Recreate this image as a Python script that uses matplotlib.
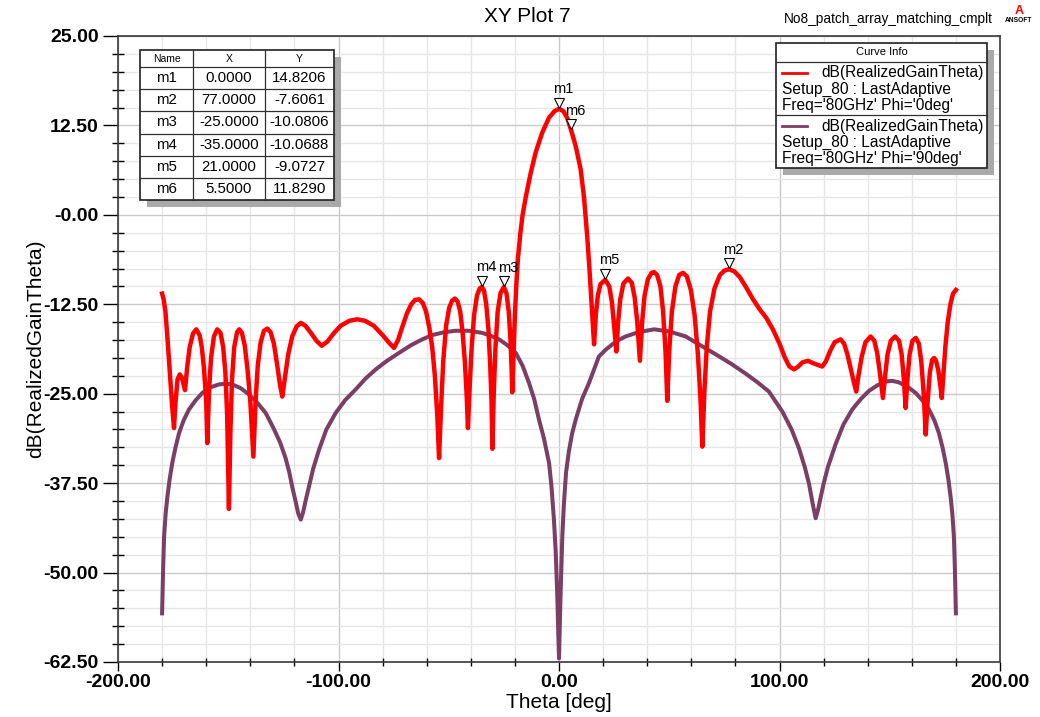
import matplotlib
matplotlib.use("Agg")
import matplotlib.pyplot as plt
from matplotlib.patches import Rectangle
from matplotlib.lines import Line2D
from matplotlib.ticker import MultipleLocator, FixedLocator
from matplotlib.transforms import offset_copy

## Phi = 0deg cut (theta in deg, realized gain in dB)
theta_phi0 = [-180, -179.3, -178.5, -177.5, -176.5, -175.5, -174.6, -174, -173, -172, -171, -169.6,
              -168.7, -167.5, -166, -164.5, -163, -162, -161, -160, -159.5, -158.7, -157.8, -156.5,
              -155, -153.5, -152.3, -151.3, -150.5, -149.7, -149, -148.3, -147.3, -146, -145,
              -143.8, -142.5, -141.3, -140, -138.6, -137.6, -136.6, -135.3, -133.8, -132.3, -130.8,
              -129.3, -127.8, -126.5, -125.5, -124.3, -122.8, -121, -119, -117.1, -115, -112.5,
              -110, -107.6, -105, -102, -99, -95, -91.5, -88, -84, -80, -77, -74.8, -73, -71, -69,
              -67, -65.3, -63.5, -61.8, -60.3, -58.8, -57.5, -56.3, -55.2, -54.4, -53.5, -52.5,
              -51.2, -49.8, -48.5, -47.2, -46, -44.8, -43.7, -42.7, -41.9, -41.3, -40.5, -39.6,
              -38.5, -37.2, -36, -35, -34, -33, -32, -31.2, -30.6, -30.2, -29.6, -28.8, -27.8,
              -26.5, -25, -23.8, -22.8, -22, -21.5, -21.2, -20.6, -20, -19.3, -18.6, -17.5, -16.5,
              -15, -12.8, -10.6, -7.6, -4.5, -2, 0, 2, 3.8, 5.5, 7.6, 9.8, 11.3, 12.8, 13.8, 14.6,
              15.3, 15.9, 16.7, 17.6, 18.8, 21, 22.8, 24, 25, 26, 26.8, 27.8, 29.2, 31.3, 33, 34.3,
              35.5, 36.7, 37.7, 38.8, 40.3, 42, 43.1, 44.5, 46, 47.2, 48.3, 49.1, 50, 51.2, 52.8,
              54.5, 56.2, 58, 59.8, 61.5, 63, 64.2, 65, 65.9, 67, 68.5, 70.5, 73, 75, 77, 79.5, 82,
              85, 88, 91, 94, 97, 100, 102.5, 104.5, 106.6, 108.5, 110.5, 113, 115, 117.5, 119.4,
              121, 123, 125, 127.7, 129.3, 130.8, 132.3, 133.8, 134.8, 135.8, 137.3, 139, 141.3,
              143, 144.3, 145.5, 146.9, 147.9, 149, 150.5, 152.4, 154.2, 155.4, 156.4, 157.2, 158,
              159, 160.3, 161.8, 163.2, 164.3, 165.4, 166.3, 167.2, 168.2, 169.2, 170.1, 171, 172,
              173, 173.6, 174.3, 175.2, 176.3, 177.5, 178.7, 180]
gain_phi0 = [-11.0, -11.8, -13.5, -17.5, -22.0, -26.5, -29.8, -26.5, -23.0, -22.3, -22.8, -24.5,
             -21.5, -18.5, -16.6, -16.0, -16.8, -18.5, -21.5, -26.0, -31.9, -24.5, -20.0, -17.0,
             -16.0, -16.5, -18.5, -22.0, -28.0, -41.1, -30.0, -23.0, -18.5, -16.4, -16.0,
             -16.5, -18.3, -21.5, -26.0, -33.8, -26.0, -21.0, -17.8, -16.2, -15.9, -16.4,
             -18.0, -21.0, -23.8, -25.4, -22.8, -19.5, -17.0, -15.6, -15.1, -15.5, -16.5,
             -17.6, -18.3, -17.7, -16.5, -15.5, -14.8, -14.6, -14.8, -15.5, -16.8, -17.9, -18.6,
             -17.5, -15.6, -13.8, -12.5, -11.9, -11.8, -12.3, -13.5, -15.8, -18.5, -22.5, -28.0,
             -34.0, -27.0, -20.5, -15.5, -13.0, -12.0, -11.7, -12.1, -13.5, -16.5, -20.5, -25.0,
             -29.8, -24.0, -18.5, -14.0, -11.3, -10.3, -10.07, -10.6, -12.5, -16.0, -21.0, -26.0,
             -32.7, -25.0, -18.5, -13.5, -10.9, -10.08, -11.0, -13.5, -17.5, -21.5, -24.8, -19.5,
             -14.0, -9.5, -6.0, -2.5, 0.0, 2.6, 5.9, 8.7, 11.5, 13.6, 14.5, 14.82, 14.5, 13.5,
             11.83, 9.6, 6.4, 2.6, -3.0, -7.5, -11.5, -15.0, -18.1, -14.0, -11.3, -9.7, -9.07,
             -10.0, -12.2, -15.5, -19.1, -15.0, -11.8, -9.6, -8.9, -9.5, -11.5, -15.0, -20.4,
             -15.0, -11.3, -9.0, -8.1, -8.0, -8.4, -10.0, -13.5, -19.0, -26.0, -19.0, -13.5,
             -10.0, -8.4, -8.1, -8.6, -10.5, -14.0, -19.5, -26.0, -32.4, -25.0, -18.5, -13.5,
             -10.3, -8.4, -7.8, -7.6, -7.9, -8.7, -10.2, -11.8, -13.2, -14.4, -16.0, -18.0, -20.0,
             -21.2, -21.6, -21.2, -20.6, -20.4, -20.7, -21.0, -21.2, -20.5, -19.0, -17.8, -17.4,
             -18.0, -19.5, -21.5, -23.5, -24.7, -22.5, -19.8, -17.8, -17.0, -17.6, -19.3, -22.0,
             -25.6, -22.5, -19.5, -17.6, -17.0, -17.6, -19.5, -23.0, -27.0, -23.0, -19.5, -17.6,
             -17.2, -18.0, -20.5, -25.0, -30.7, -26.0, -22.0, -20.3, -20.0, -20.4, -21.7, -24.0,
             -25.6, -22.5, -18.5, -15.0, -12.5, -11.0, -10.5]

## Phi = 90deg cut
theta_phi90 = [-180, -179.5, -179.1, -178.4, -177.6, -176.6, -175.4, -174, -172.3, -170.2, -167.8,
               -165, -161.8, -158, -154.2, -151.2, -148.2, -144.5, -140.6, -137, -133.0, -129.5,
               -126.5, -124, -122.3, -121.0, -119.5, -118.2, -117.1, -116, -114.8, -113.4, -111.5,
               -108.8, -105.5, -101.3, -97, -92.2, -87.8, -83.1, -78, -72.6, -67, -62, -57.5, -52,
               -46.9, -41, -34.8, -31, -27.2, -23.5, -19.6, -16.5, -13.6, -11.2, -9.1, -6.8, -4.5,
               -3.4, -2.3, -1.5, -0.8, 0, 0.8, 1.5, 2.2, 3.2, 4.5, 6, 7.6, 10.5, 13.6, 18.1, 21,
               24.2, 27, 30.2, 36, 43.1, 50, 57.5, 64, 71.1, 78, 84.7, 90, 95.2, 101.3, 105.5,
               108.8, 111.5, 113.4, 115, 116.4, 117.5, 118.8, 120, 122, 125.5, 129, 133, 137, 140.6,
               144.5, 148, 151, 154, 158, 161.8, 165, 167.8, 170.2, 172.3, 174, 175.4, 176.6, 177.6,
               178.4, 179.1, 179.5, 180]
gain_phi90 = [-55.7, -49.0, -45.0, -41.8, -39.4, -37.0, -34.7, -32.6, -30.5, -28.7, -27.2,
              -26.0, -24.9, -24.1, -23.7, -23.6, -23.7, -24.2, -25.1, -26.2, -27.7, -29.8,
              -31.8, -34.0, -36.0, -38.0, -40.0, -41.8, -42.6, -41.5, -39.8, -38.0, -35.5,
              -32.8, -30.0, -27.7, -25.9, -24.4, -22.9, -21.6, -20.4, -19.3, -18.2, -17.4, -16.8,
              -16.4, -16.2, -16.2, -16.5, -16.9, -17.4, -18.2, -19.3, -21.1, -23.5, -25.8, -28.6,
              -31.3, -34.7, -38.0, -42.6, -47.0, -53.0, -62.0, -52.0, -45.0, -40.5, -36.0, -33.0,
              -30.5, -28.6, -25.7, -23.5, -19.8, -18.9, -18.1, -17.5, -17.0, -16.4, -16.0, -16.3,
              -17.0, -18.2, -19.5, -20.8, -22.2, -23.4, -24.7, -27.5, -30.0, -32.6, -35.3, -37.6,
              -40.3, -42.4, -41.2, -39.3, -37.6, -35.2, -32.0, -29.3, -27.2, -25.7, -24.6, -23.8,
              -23.3, -23.2, -23.4, -24.0, -24.9, -26.0, -27.2, -28.7, -30.5, -32.6, -34.7, -37.0,
              -39.4, -41.8, -45.0, -49.0, -55.7]

## markers
marker_names = ["m1", "m2", "m3", "m4", "m5", "m6"]
marker_x = [0.0, 77.0, -25.0, -35.0, 21.0, 5.5]
marker_y = [14.8206, -7.6061, -10.0806, -10.0688, -9.0727, 11.8290]

x_ticks = [-200, -100, 0, 100, 200]
x_tick_labels = ["-200.00", "-100.00", "0.00", "100.00", "200.00"]
y_ticks = [-62.5, -50, -37.5, -25, -12.5, 0, 12.5, 25]
y_tick_labels = ["-62.50", "-50.00", "-37.50", "-25.00", "-12.50", "-0.00", "12.50", "25.00"]

legend_lines = [["dB(RealizedGainTheta)", "Setup_80 : LastAdaptive", "Freq='80GHz' Phi='0deg'"],
                ["dB(RealizedGainTheta)", "Setup_80 : LastAdaptive", "Freq='80GHz' Phi='90deg'"]]

RED = "#ff0000"
PURPLE = "#7b3f66"
W, H = 1040, 717
plt.rcParams["font.family"] = ["Liberation Sans", "DejaVu Sans"]

def fx(px):
    return px / W

def fy(py):
    return 1 - py / H

fig = plt.figure(figsize=(W / 100, H / 100), dpi=100)
ax = fig.add_axes([fx(118), 55 / H, 882 / W, 626 / H])

ax.plot(theta_phi90, gain_phi90, color=PURPLE, lw=2.9, solid_joinstyle="round", zorder=3)
ax.plot(theta_phi0, gain_phi0, color=RED, lw=3.2, solid_joinstyle="round", zorder=4)

ax.set_xlim(-200, 200)
ax.set_ylim(-62.5, 25)
ax.xaxis.set_major_locator(FixedLocator(x_ticks))
ax.set_xticklabels(x_tick_labels)
ax.yaxis.set_major_locator(FixedLocator(y_ticks))
ax.set_yticklabels(y_tick_labels)
ax.xaxis.set_minor_locator(MultipleLocator(20))
ax.yaxis.set_minor_locator(MultipleLocator(2.5))

ax.grid(which="major", color="#c9c9c9", lw=1.0, zorder=0)
ax.grid(which="minor", color="#e6e6e6", lw=1.0, zorder=0)
ax.set_axisbelow(True)

for lbl in ax.get_xticklabels() + ax.get_yticklabels():
    lbl.set_fontweight("bold")
ax.tick_params(axis="x", which="major", direction="out", length=6.5, width=1, labelsize=14, pad=2)
ax.tick_params(axis="y", which="major", direction="out", length=10.8, width=1, labelsize=14, pad=3)
ax.tick_params(axis="x", which="minor", direction="inout", length=6, width=1)
ax.tick_params(axis="y", which="minor", direction="inout", length=9, width=1)
for sp in ax.spines.values():
    sp.set_color("#3a3a3a")
    sp.set_linewidth(1.2)

ax.set_xlabel("Theta [deg]", fontsize=15)
ax.xaxis.label.set_va("center")
ax.xaxis.set_label_coords(0.5, -(703 - 662) / 626)
ax.set_ylabel("dB(RealizedGainTheta)", fontsize=15)
ax.yaxis.label.set_va("center")
ax.yaxis.set_label_coords((36 - 118) / 882, 0.5)

## marker triangles + names
tri_tr = offset_copy(ax.transData, fig=fig, x=0, y=4.5, units="points")
for name, mx, my in zip(marker_names, marker_x, marker_y):
    ax.plot(mx, my, marker="v", ms=6.5, mfc="white", mec="black", mew=0.8,
            transform=tri_tr, zorder=6, clip_on=False)
    ax.annotate(name, (mx, my), xytext=(3, 14), textcoords="offset points",
                ha="center", va="center", fontsize=10.5, zorder=7)

## titles
fig.text(fx(527), fy(17), "XY Plot 7", fontsize=15, ha="center", va="center")
fig.text(fx(993), fy(19), "No8_patch_array_matching_cmplt", fontsize=9.8, ha="right", va="center")
fig.text(fx(1019), fy(11), "A", color=RED, fontsize=9, fontweight="bold", ha="center", va="center")
fig.text(fx(1019), fy(21), "ANSOFT", fontsize=4.8, fontweight="bold", ha="center", va="center")

## marker table
tx0, tx1, tx2, tx3 = 140, 193, 265, 334
ty0, ty_head, ty1 = 50, 67, 200
fig.add_artist(Rectangle((fx(tx0 + 7), fy(ty1 + 7)), (tx3 - tx0) / W, (ty1 - ty0) / H,
                         transform=fig.transFigure, facecolor="#a9a9a9", edgecolor="none", zorder=5))
fig.add_artist(Rectangle((fx(tx0), fy(ty1)), (tx3 - tx0) / W, (ty1 - ty0) / H,
                         transform=fig.transFigure, facecolor="white", edgecolor="#202020", lw=1.2, zorder=6))
row_h = (ty1 - ty_head) / len(marker_names)
hlines = [ty_head] + [ty_head + row_h * i for i in range(1, len(marker_names))]
for yy in hlines:
    fig.add_artist(Line2D([fx(tx0), fx(tx3)], [fy(yy), fy(yy)], transform=fig.transFigure,
                          color="#303030", lw=0.9, zorder=7))
for xx in (tx1, tx2):
    fig.add_artist(Line2D([fx(xx), fx(xx)], [fy(ty0), fy(ty1)], transform=fig.transFigure,
                          color="#303030", lw=0.9, zorder=7))
for txt, xa, xb in (("Name", tx0, tx1), ("X", tx1, tx2), ("Y", tx2, tx3)):
    fig.text(fx((xa + xb) / 2), fy((ty0 + ty_head) / 2), txt, fontsize=7.5,
             ha="center", va="center", zorder=8)
for i, (name, mx, my) in enumerate(zip(marker_names, marker_x, marker_y)):
    yc = fy(ty_head + row_h * (i + 0.5))
    fig.text(fx((tx0 + tx1) / 2), yc, name, fontsize=10.8, ha="center", va="center", zorder=8)
    fig.text(fx((tx1 + tx2) / 2), yc, "%.4f" % mx, fontsize=10.8, ha="center", va="center", zorder=8)
    fig.text(fx((tx2 + tx3) / 2), yc, "%.4f" % my, fontsize=10.8, ha="center", va="center", zorder=8)

## curve info box
lx0, lx1, ly0, ly1 = 776, 987, 43, 168
fig.add_artist(Rectangle((fx(lx0 + 7), fy(ly1 + 7)), (lx1 - lx0) / W, (ly1 - ly0) / H,
                         transform=fig.transFigure, facecolor="#a9a9a9", edgecolor="none", zorder=5))
fig.add_artist(Rectangle((fx(lx0), fy(ly1)), (lx1 - lx0) / W, (ly1 - ly0) / H,
                         transform=fig.transFigure, facecolor="white", edgecolor="#202020", lw=1.2, zorder=6))
fig.text(fx((lx0 + lx1) / 2), fy(52), "Curve Info", fontsize=8, ha="center", va="center", zorder=8)
for yy in (61.5, 115):
    fig.add_artist(Line2D([fx(lx0), fx(lx1)], [fy(yy), fy(yy)], transform=fig.transFigure,
                          color="#303030", lw=0.9, zorder=7))
for k, (col, lines) in enumerate(zip([RED, PURPLE], legend_lines)):
    y_first = 72.5 + k * 53.5
    fig.add_artist(Line2D([fx(782), fx(807)], [fy(y_first), fy(y_first)], transform=fig.transFigure,
                          color=col, lw=2, zorder=8))
    fig.text(fx(984), fy(y_first), lines[0], fontsize=11.2, ha="right", va="center", zorder=8)
    fig.text(fx(782), fy(y_first + 16.5), lines[1], fontsize=11.2, ha="left", va="center", zorder=8)
    fig.text(fx(782), fy(y_first + 33), lines[2], fontsize=11.2, ha="left", va="center", zorder=8)

fig.savefig("out.png", dpi=100)
